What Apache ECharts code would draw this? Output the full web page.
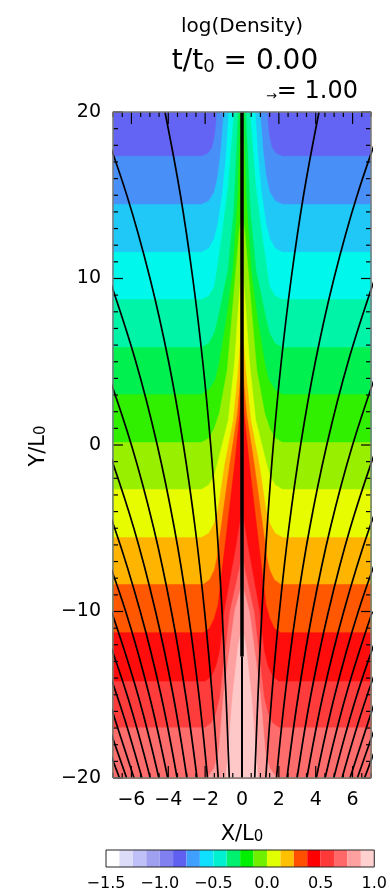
<!DOCTYPE html>
<html>
<head>
<meta charset="utf-8">
<script src="https://cdn.jsdelivr.net/npm/echarts@6/dist/echarts.min.js"></script>
<style>html,body{margin:0;padding:0;background:#fff}#c{width:390px;height:895px}</style>
</head>
<body>
<div id="c"></div>
<script>
// ---------- data ----------
const xTicks = [-6, -4, -2, 0, 2, 4, 6];
const yTicks = [-20, -10, 0, 10, 20];
const cbTicks = [-1.5, -1.0, -0.5, 0.0, 0.5, 1.0];
const xRange = [-7, 7];
const yRange = [-20, 20];
const xMinorTicks = [-7,-6.5,-6,-5.5,-5,-4.5,-4,-3.5,-3,-2.5,-2,-1.5,-1,-0.5,0,0.5,1,1.5,2,2.5,3,3.5,4,4.5,5,5.5,6,6.5,7];
const yMinorTicks = [-19,-18,-17,-16,-15,-14,-13,-12,-11,-9,-8,-7,-6,-5,-4,-3,-2,-1,1,2,3,4,5,6,7,8,9,11,12,13,14,15,16,17,18,19];

// colour bar: 20 bins of log(Density)
const cbBins = [-1.5,-1.375,-1.25,-1.125,-1.0,-0.875,-0.75,-0.625,-0.5,-0.375,-0.25,-0.125,0,0.125,0.25,0.375,0.5,0.625,0.75,0.875];
const cbColors = ['#ffffff','#dcdcf8','#c0c0f8','#a0a0f0','#8080f0','#6060f0','#40a0ff','#10e0ff','#00f0d0','#00f070',
                  '#00f000','#70f000','#e0ff00','#ffc000','#ff5000','#ff0000','#ff3838','#ff6868','#ffa0a0','#ffd0d0'];

// filled-contour bands in the map (band 0 = lowest density, top of box)
const bandColors = ['#6464f4','#4890f8','#20c8f8','#00f8ec','#00f4a8','#00f050','#30f000','#98f000',
                    '#e8fc00','#ffb400','#ff5800','#ff0c0c','#ff3c3c','#ff6c6c','#ffa0a0','#ffc8c8'];
const contourLevels = [-0.875,-0.75,-0.625,-0.5,-0.375,-0.25,-0.125,0,0.125,0.25,0.375,0.5,0.625,0.75,0.875];
// right half of each contour line [X/L0, Y/L0], from the box side to the centre (mirror symmetric)
const contourRight = [
  [[7,17.34],[2.2,17.34],[1.85,17.5],[1.6,17.9],[1.47,18.6],[1.4,19.3],[1.36,20]],
  [[7,14.45],[2.2,14.45],[1.8,14.65],[1.5,15.2],[1.3,16.2],[1.15,17.6],[0.98,20]],
  [[7,11.57],[2.2,11.57],[1.8,11.8],[1.5,12.4],[1.3,13.3],[1.05,15.2],[0.85,17.5],[0.71,20]],
  [[7,8.74],[2.2,8.74],[1.8,8.95],[1.5,9.5],[1.36,10.5],[1.1,12.5],[0.75,15.5],[0.43,20]],
  [[7,5.86],[2.2,5.86],[1.8,6.1],[1.5,6.7],[1.3,7.6],[0.76,10.5],[0.45,14],[0.2,20]],
  [[7,3.03],[2.2,3.03],[1.8,3.3],[1.45,3.9],[1.25,4.8],[0.85,7.5],[0.49,10.5],[0.22,15],[0.07,20]],
  [[7,0.15],[2.2,0.15],[1.8,0.4],[1.5,1.0],[1.23,1.9],[0.8,4.5],[0.33,10.5],[0.15,12.8],[0,14]],
  [[7,-2.67],[2.2,-2.67],[1.8,-2.4],[1.5,-1.8],[1.3,-1.0],[0.74,1.5],[0.4,5],[0.18,8.5],[0,11]],
  [[7,-5.56],[2.2,-5.56],[1.8,-5.3],[1.5,-4.7],[1.3,-3.9],[0.94,-1.2],[0.47,1.5],[0.2,4.5],[0,7.4]],
  [[7,-8.38],[2.1,-8.38],[1.75,-8.1],[1.5,-7.5],[1.36,-6.8],[0.67,-1.2],[0.25,1.8],[0.08,4],[0,5.9]],
  [[7,-11.27],[2.1,-11.27],[1.75,-11.0],[1.5,-10.4],[1.3,-9.6],[0.4,-1.2],[0.12,1.8],[0,4.7]],
  [[7,-14.21],[2.0,-14.21],[1.65,-13.9],[1.4,-13.3],[1.2,-12.4],[0.95,-10],[0.3,-6],[0,-3.9]],
  [[7,-16.98],[2.0,-16.98],[1.65,-16.7],[1.4,-16.1],[1.2,-15.2],[0.65,-10],[0.15,-7.5],[0,-6.5]],
  [[1.9,-20],[1.5,-19.4],[1.25,-18.3],[1.0,-15],[0.4,-10],[0,-8.3]],
  [[0.87,-20],[0.5,-15],[0.2,-12],[0,-11]]
];

// magnetic field lines (right half; mirrored to the left): X/L0 at these heights
const fieldLineY = [-20,-15,-10,-5,0,5,10,15,20];
const fieldLineX = [
  [0.69,0.87,1.08,1.36,1.70,2.13,2.67,3.34,4.18],
  [1.29,1.62,2.03,2.54,3.18,3.98,4.99,6.25,7.82],
  [1.87,2.34,2.93,3.67,4.60,5.76,7.21],
  [2.44,3.06,3.83,4.79,6.00,7.51],
  [2.99,3.74,4.69,5.87,7.35],
  [3.52,4.40,5.52,6.91,8.65],
  [4.03,5.04,6.31,7.91],
  [4.51,5.65,7.08],
  [4.98,6.24,7.81],
  [5.43,6.80,8.51],
  [5.86,7.33],
  [6.26,7.84],
  [6.65,8.33]
];
// central current sheet
const sheetThick = [[0,-12.7],[0,20]];
const sheetThin = [[0,-20],[0,-12.7]];

// ---------- chart ----------
const FONT = '"DejaVu Sans", sans-serif';
const minus = v => (v < 0 ? '\u2212' : '') + Math.abs(v);
const GRID = {left: 113, top: 112, width: 258, height: 666};

function contourPolygon(right) {
  const first = right[0];
  const left = right.slice().reverse().map(p => [-p[0], p[1]]);
  if (right[right.length - 1][0] === 0) left.shift();
  return [[first[0], yRange[0]]].concat(right, left, [[-first[0], yRange[0]]]);
}

const series = [];
// filled contours
series.push({
  type: 'custom', xAxisIndex: 0, yAxisIndex: 0, z: 1, silent: true,
  data: [0],
  renderItem: function (params, api) {
    const children = [];
    const base = [[xRange[0],yRange[0]],[xRange[1],yRange[0]],[xRange[1],yRange[1]],[xRange[0],yRange[1]]].map(p => api.coord(p));
    children.push({type: 'polygon', shape: {points: base}, style: {fill: bandColors[0]}});
    contourRight.forEach((c, j) => {
      const pts = contourPolygon(c).map(p => api.coord(p));
      children.push({type: 'polygon', shape: {points: pts}, style: {fill: bandColors[j + 1], stroke: bandColors[j + 1], lineWidth: 0.5}});
    });
    return {type: 'group', children: children};
  }
});

// field lines
fieldLineX.forEach(xs => {
  [1, -1].forEach(s => {
    series.push({
      type: 'line', xAxisIndex: 0, yAxisIndex: 0, z: 3, silent: true,
      smooth: 0.4, symbol: 'none', clip: true,
      lineStyle: {color: '#000', width: 1.7},
      data: xs.map((x, k) => [s * x, fieldLineY[k]])
    });
  });
});
series.push({type: 'line', xAxisIndex: 0, yAxisIndex: 0, z: 3, symbol: 'none', silent: true,
  lineStyle: {color: '#000', width: 3.5}, data: sheetThick});
series.push({type: 'line', xAxisIndex: 0, yAxisIndex: 0, z: 3, symbol: 'none', silent: true,
  lineStyle: {color: '#000', width: 2}, data: sheetThin});

// box frame
series.push({type: 'line', xAxisIndex: 0, yAxisIndex: 0, z: 7, symbol: 'none', silent: true, clip: false,
  lineStyle: {color: '#7a7a7a', width: 1.5},
  data: [[xRange[0],yRange[0]],[xRange[1],yRange[0]],[xRange[1],yRange[1]],[xRange[0],yRange[1]],[xRange[0],yRange[0]]]});
// inward ticks (IDL style) on all four sides, placed through the axes
series.push({
  type: 'custom', xAxisIndex: 0, yAxisIndex: 0, z: 7, silent: true, clip: false,
  data: [[0, 0]],
  renderItem: function (params, api) {
    const ch = [];
    const seg = (a, dx, dy) => ch.push({type: 'polyline', shape: {points: [[a[0], a[1]], [a[0] + dx, a[1] + dy]]},
      style: {stroke: '#000', lineWidth: 1.2, fill: null}});
    xMinorTicks.forEach(x => {
      const len = xTicks.indexOf(x) >= 0 ? 12 : 5;
      seg(api.coord([x, yRange[0]]), 0, -len);
      seg(api.coord([x, yRange[1]]), 0, len);
    });
    yTicks.concat(yMinorTicks).forEach(y => {
      const len = yTicks.indexOf(y) >= 0 ? 10 : 5;
      seg(api.coord([xRange[0], y]), len, 0);
      seg(api.coord([xRange[1], y]), -len, 0);
    });
    return {type: 'group', children: ch};
  }
});

// colour bar
series.push({
  type: 'custom', xAxisIndex: 1, yAxisIndex: 1, z: 1, silent: true,
  data: cbBins.map((v, i) => [v, i]),
  renderItem: function (params, api) {
    const v = api.value(0), i = api.value(1);
    const p0 = api.coord([v, 0]), p1 = api.coord([v + 0.125, 1]);
    return {type: 'rect', shape: {x: p0[0], y: p1[1], width: p1[0] - p0[0], height: p0[1] - p1[1]},
      style: {fill: cbColors[i]}};
  }
});
series.push({
  type: 'custom', xAxisIndex: 1, yAxisIndex: 1, z: 5, silent: true,
  data: [0],
  renderItem: function (params, api) {
    const a = api.coord([cbTicks[0], 1]), b = api.coord([cbTicks[cbTicks.length - 1], 0]);
    return {type: 'rect', shape: {x: a[0], y: a[1], width: b[0] - a[0], height: b[1] - a[1]},
      style: {fill: 'none', stroke: '#222', lineWidth: 1}};
  }
});

const noLine = {show: false, onZero: false};

const option = {
  animation: false,
  backgroundColor: '#fff',
  grid: [
    Object.assign({show: false}, GRID),
    {left: 106, top: 850, width: 269, height: 17, show: false}
  ],
  xAxis: [
    {type: 'value', gridIndex: 0, position: 'bottom', min: xRange[0], max: xRange[1],
     axisLine: noLine, splitLine: {show: false}, axisTick: {show: false},
     axisLabel: {customValues: xTicks, formatter: minus, color: '#000', fontSize: 19, fontFamily: FONT, margin: 13}},
    {type: 'value', gridIndex: 1, position: 'bottom', min: -1.5, max: 1.0,
     axisLine: noLine, splitLine: {show: false}, axisTick: {show: false},
     axisLabel: {customValues: cbTicks, formatter: v => (v < 0 ? '\u2212' : '') + Math.abs(v).toFixed(1),
       color: '#000', fontSize: 16, fontFamily: FONT, margin: 9}}
  ],
  yAxis: [
    {type: 'value', gridIndex: 0, position: 'left', min: yRange[0], max: yRange[1], interval: 10,
     axisLine: noLine, splitLine: {show: false}, axisTick: {show: false},
     axisLabel: {formatter: minus, color: '#000', fontSize: 19, fontFamily: FONT, margin: 12}},
    {type: 'value', gridIndex: 1, min: 0, max: 1, show: false, axisLine: noLine}
  ],
  graphic: [
    {type: 'text', x: 242, y: 27, style: {text: 'log(Density)', font: '20px ' + FONT, fill: '#000',
      align: 'center', verticalAlign: 'middle'}},
    {type: 'text', x: 245, y: 61, style: {
      text: '{a|t/t}{s|0}{a| = 0.00}', align: 'center', verticalAlign: 'middle',
      rich: {a: {fontSize: 28, fontFamily: FONT, fill: '#000', lineHeight: 30, verticalAlign: 'bottom'},
             s: {fontSize: 18, fontFamily: FONT, fill: '#000', lineHeight: 17, verticalAlign: 'bottom'}}}},
    {type: 'text', x: 358, y: 91, style: {
      text: '{r|\u2192}{b|= 1.00}', align: 'right', verticalAlign: 'middle',
      rich: {r: {fontSize: 13, fontFamily: FONT, fill: '#000', verticalAlign: 'bottom', lineHeight: 14},
             b: {fontSize: 24, fontFamily: FONT, fill: '#000', verticalAlign: 'bottom', lineHeight: 25}}}},
    {type: 'text', x: 242, y: 834, style: {
      text: '{a|X/L}{s|0}', align: 'center', verticalAlign: 'middle',
      rich: {a: {fontSize: 21, fontFamily: FONT, fill: '#000', lineHeight: 22, verticalAlign: 'bottom'},
             s: {fontSize: 15, fontFamily: FONT, fill: '#000', lineHeight: 14, verticalAlign: 'bottom'}}}},
    {type: 'text', x: 38, y: 446, rotation: Math.PI / 2, style: {
      text: '{a|Y/L}{s|0}', align: 'center', verticalAlign: 'middle',
      rich: {a: {fontSize: 21, fontFamily: FONT, fill: '#000', lineHeight: 22, verticalAlign: 'bottom'},
             s: {fontSize: 15, fontFamily: FONT, fill: '#000', lineHeight: 14, verticalAlign: 'bottom'}}}}
  ],
  series: series
};

const chart = echarts.init(document.getElementById('c'), null, {renderer: 'canvas'});
chart.setOption(option);
</script>
</body>
</html>
